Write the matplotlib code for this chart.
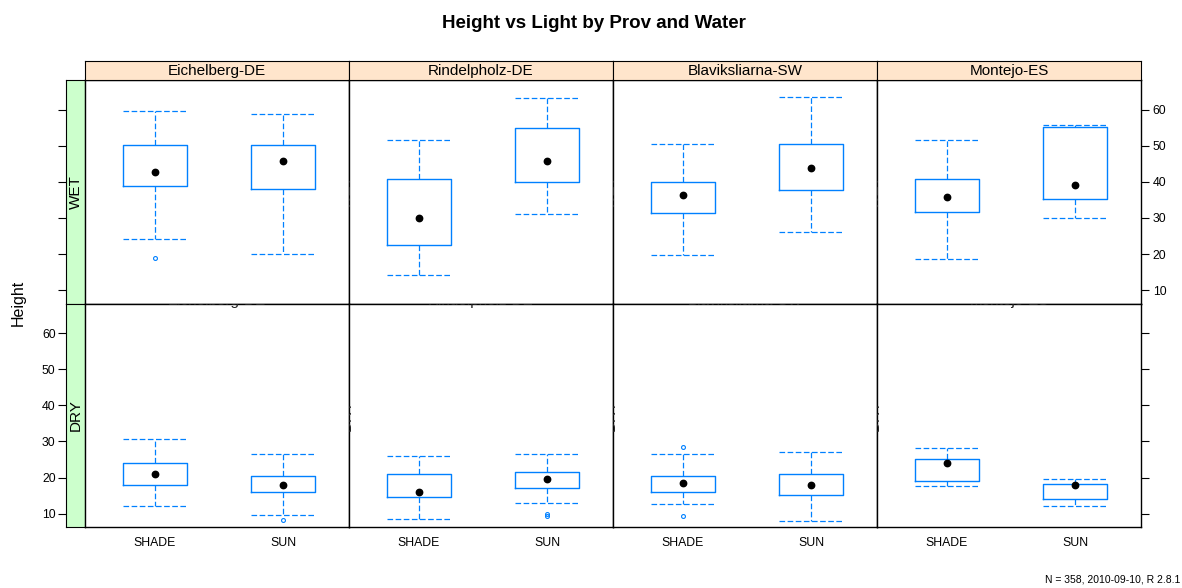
import matplotlib
matplotlib.use("Agg")
import matplotlib.pyplot as plt

plt.rcParams["font.family"] = ["Liberation Sans", "DejaVu Sans"]

# ---- data -------------------------------------------------------------
provs = ["Eichelberg-DE", "Rindelpholz-DE", "Blaviksliarna-SW", "Montejo-ES"]
waters = ["WET", "DRY"]
lights = ["SHADE", "SUN"]

# five-number summaries per provenance, [SHADE, SUN]
wet_whislo = [[24.2, 20.0], [14.2, 31.1], [19.7, 26.1], [18.6, 30.1]]
wet_q1 = [[38.8, 37.9], [22.5, 39.9], [31.3, 37.7], [31.7, 35.2]]
wet_med = [[42.7, 45.7], [30.1, 45.7], [36.3, 43.7], [35.9, 39.1]]
wet_q3 = [[50.2, 50.2], [40.7, 54.9], [39.9, 50.4], [40.9, 55.2]]
wet_whishi = [[59.6, 58.9], [51.6, 63.3], [50.6, 63.6], [51.6, 55.7]]
wet_fliers = [[[18.8], []], [[], []], [[], []], [[], []]]

dry_whislo = [[12.1, 9.7], [8.6, 13.0], [12.8, 8.1], [17.7, 12.1]]
dry_q1 = [[18.0, 15.9], [14.6, 17.1], [16.0, 15.2], [19.0, 14.1]]
dry_med = [[21.0, 17.9], [16.1, 19.6], [18.6, 18.0], [24.0, 18.0]]
dry_q3 = [[24.0, 20.4], [21.0, 21.5], [20.5, 20.9], [25.1, 18.3]]
dry_whishi = [[30.6, 26.6], [26.0, 26.6], [26.6, 27.1], [28.2, 19.7]]
dry_fliers = [[[], [8.3]], [[], [9.3, 9.8]], [[28.4, 9.3], []], [[], []]]

y_ticks = [10, 20, 30, 40, 50, 60]
n_obs = 358
footnote = f"N = {n_obs}, 2010-09-10, R 2.8.1"

summaries = {
    "WET": (wet_whislo, wet_q1, wet_med, wet_q3, wet_whishi, wet_fliers),
    "DRY": (dry_whislo, dry_q1, dry_med, dry_q3, dry_whishi, dry_fliers),
}

# ---- layout (pixel geometry) ------------------------------------------
W, H = 1182, 588
fig = plt.figure(figsize=(W / 100, H / 100), dpi=100)


def rect(x0, y0, x1, y1):
    return [x0 / W, 1 - y1 / H, (x1 - x0) / W, (y1 - y0) / H]


col_left = [85, 349, 613, 877]
panel_w = 264
row_top = [80, 303.5]
row_bot = [303.5, 527]
row_h = 223.5
strip_top = 61
lstrip_left = 66

XLIM = (0.453, 2.516)
YLIM = (6.3, 68.2)
BLUE = "#0080ff"
dash = (0, (4.5, 2))

boxprops = dict(color=BLUE, linewidth=1.0)
lineprops = dict(color=BLUE, linewidth=0.9, linestyle=dash)
flierprops = dict(marker="o", markersize=2.8, markerfacecolor="none",
                  markeredgecolor=BLUE, markeredgewidth=0.8, linestyle="none")
medianprops = dict(linestyle="none")

tick_fs = 8.8
strip_fs = 11

for r, water in enumerate(waters):
    whislo, q1, med, q3, whishi, fliers = summaries[water]

    # left strip carrying the y axis
    sax = fig.add_axes(rect(lstrip_left, row_top[r], col_left[0], row_bot[r]))
    sax.set_facecolor("#CCFFCC")
    sax.set_ylim(*YLIM)
    sax.set_xticks([])
    sax.set_yticks(y_ticks)
    sax.tick_params(axis="y", direction="out", length=5.5, width=0.8,
                    pad=2, labelsize=tick_fs, labelleft=(r == 1))
    for sp in sax.spines.values():
        sp.set_linewidth(0.8)
    sax.text(0.5, 0.5, water, transform=sax.transAxes, rotation=90,
             ha="center", va="center", fontsize=strip_fs)

    for c, prov in enumerate(provs):
        ax = fig.add_axes(rect(col_left[c], row_top[r],
                               col_left[c] + panel_w, row_bot[r]))
        stats = [dict(whislo=whislo[c][k], q1=q1[c][k], med=med[c][k],
                      q3=q3[c][k], whishi=whishi[c][k], fliers=fliers[c][k])
                 for k in range(len(lights))]
        ax.bxp(stats, positions=[1, 2], widths=0.5, capwidths=0.5,
               boxprops=boxprops, whiskerprops=lineprops, capprops=lineprops,
               flierprops=flierprops, medianprops=medianprops)
        ax.plot([1, 2], med[c], "o", color="black", markersize=4.6, zorder=5)
        ax.set_xlim(*XLIM)
        ax.set_ylim(*YLIM)

        if r == 1:
            ax.set_xticks([1, 2])
            ax.set_xticklabels(lights)
            ax.tick_params(axis="x", length=0, pad=7.5, labelsize=tick_fs)
        else:
            ax.set_xticks([])

        if c == len(provs) - 1:
            ax.set_yticks(y_ticks)
            ax.tick_params(axis="y", left=False, labelleft=False, right=True,
                           labelright=(r == 0), direction="out", length=5.5,
                           width=0.8, pad=3, labelsize=tick_fs)
        else:
            ax.set_yticks([])

        for sp in ax.spines.values():
            sp.set_linewidth(1.0)

        # remnants of the hidden strips peeking in at the panel edges
        if r == 1:
            ax.text(0.5, 1.0 - 1.2 / row_h, prov, transform=ax.transAxes,
                    ha="center", va="baseline", fontsize=strip_fs,
                    clip_on=True, color="#222222")
        if c > 0:
            ax.text(1.5 / panel_w, 0.5, water, transform=ax.transAxes,
                    rotation=90, rotation_mode="anchor", ha="center",
                    va="baseline", fontsize=strip_fs, clip_on=True,
                    color="#222222")

        # top strip with the provenance name (top row only)
        if r == 0:
            tax = fig.add_axes(rect(col_left[c], strip_top,
                                    col_left[c] + panel_w, row_top[0]))
            tax.set_facecolor("#FFE5CC")
            tax.set_xticks([])
            tax.set_yticks([])
            for sp in tax.spines.values():
                sp.set_linewidth(0.8)
            tax.text(0.5, 0.45, prov, transform=tax.transAxes, ha="center",
                     va="center", fontsize=strip_fs)

fig.text(594 / W, 1 - 23 / H, "Height vs Light by Prov and Water",
         ha="center", va="center", fontsize=13.5, fontweight="bold")
fig.text(18 / W, 1 - 303 / H, "Height", rotation=90, ha="center",
         va="center", fontsize=11.5)
fig.text(1180 / W, 1 - 580 / H, footnote, ha="right", va="center",
         fontsize=7.5)

fig.savefig("out.png", dpi=100)
